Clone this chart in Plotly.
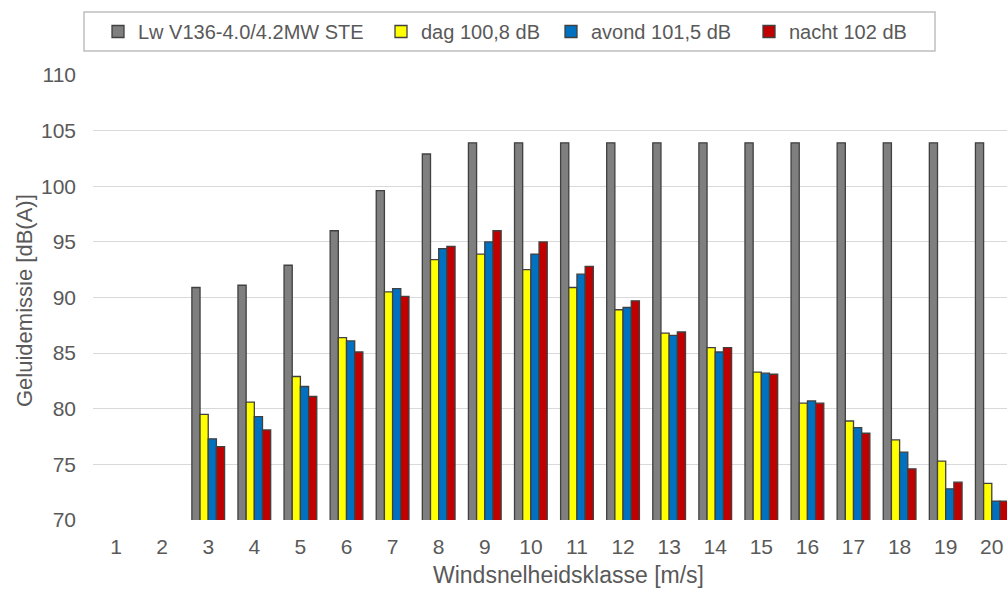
import plotly.graph_objects as go

classes = list(range(1, 21))
tick_labels = [str(c) for c in classes]

lw_v136 = [None, None, 90.9, 91.1, 92.9, 96.0, 99.6, 102.9, 103.9, 103.9,
           103.9, 103.9, 103.9, 103.9, 103.9, 103.9, 103.9, 103.9, 103.9, 103.9]
dag = [None, None, 79.5, 80.6, 82.9, 86.4, 90.5, 93.4, 93.9, 92.5,
       90.9, 88.9, 86.8, 85.5, 83.3, 80.5, 78.9, 77.2, 75.3, 73.3]
avond = [None, None, 77.3, 79.3, 82.0, 86.1, 90.8, 94.4, 95.0, 93.9,
         92.1, 89.1, 86.6, 85.1, 83.2, 80.7, 78.3, 76.1, 72.8, 71.7]
nacht = [None, None, 76.6, 78.1, 81.1, 85.1, 90.1, 94.6, 96.0, 95.0,
         92.8, 89.7, 86.9, 85.5, 83.1, 80.5, 77.8, 74.6, 73.4, 71.7]

series_names = ["Lw V136-4.0/4.2MW STE", "dag 100,8 dB", "avond 101,5 dB", "nacht 102 dB"]
series_values = [lw_v136, dag, avond, nacht]
series_colors = ["#7F7F7F", "#FFFF00", "#0070C0", "#C00000"]

FONT = "Liberation Sans, Arial, sans-serif"
TXT = "#595959"
W, H = 1007, 589
L, R, T, B = 93, 0, 75, 69

# legend entry left edges (px) so each entry sits where the reference has it
legend_px = [98, 381, 551, 749]
legend_ids = ["legend", "legend2", "legend3", "legend4"]

fig = go.Figure()
for name, vals, col, lid in zip(series_names, series_values, series_colors, legend_ids):
    fig.add_trace(go.Bar(
        x=classes, y=vals, name=name, legend=lid, showlegend=True,
        marker=dict(color=col, line=dict(color="#404040", width=1.3)),
    ))

layout_legends = {}
for lid, px in zip(legend_ids, legend_px):
    layout_legends[lid] = dict(
        orientation="h",
        xref="container", yref="container",
        x=px / W, xanchor="left",
        y=1 - 12 / H, yanchor="top",
        bgcolor="rgba(0,0,0,0)", borderwidth=0,
        font=dict(family=FONT, size=20, color=TXT),
        itemclick=False, itemdoubleclick=False,
        visible=True,
    )

pw = W - L - R
ph = H - T - B

def xp(px):
    return (px - L) / pw

def yp(py):
    return (H - B - py) / ph

fig.update_layout(
    width=W, height=H,
    showlegend=True,
    paper_bgcolor="white", plot_bgcolor="white",
    barmode="group", bargap=0.29, bargroupgap=0,
    margin=dict(l=L, r=R, t=T, b=B),
    font=dict(family=FONT, color=TXT, size=21),
    **layout_legends,
    xaxis=dict(
        range=[0.5, 20.33],
        tickmode="array", tickvals=classes, ticktext=tick_labels,
        showgrid=False, zeroline=False, showline=False,
        ticks="", ticklabelstandoff=12,
        tickfont=dict(size=21, color=TXT),
        automargin=False,
    ),
    yaxis=dict(
        range=[70, 110], dtick=5, tick0=70,
        showgrid=True, gridcolor="#D9D9D9", gridwidth=1,
        zeroline=False, showline=False,
        ticks="", ticklabelstandoff=16,
        tickfont=dict(size=21, color=TXT),
        automargin=False,
    ),
    shapes=[dict(
        type="rect", xref="paper", yref="paper",
        x0=xp(84), x1=xp(935), y0=yp(51), y1=yp(12),
        line=dict(color="#BFBFBF", width=1.5), fillcolor="rgba(0,0,0,0)",
        layer="below",
    )],
    annotations=[
        dict(text="Windsnelheidsklasse [m/s]", xref="paper", yref="paper",
             x=xp(568), y=yp(575), xanchor="center", yanchor="middle",
             showarrow=False, font=dict(family=FONT, size=23, color=TXT)),
        dict(text="Geluidemissie [dB(A)]", xref="paper", yref="paper",
             x=xp(24), y=yp(301), xanchor="center", yanchor="middle",
             textangle=-90, showarrow=False,
             font=dict(family=FONT, size=22, color=TXT)),
    ],
)

fig.write_html("out.html", config={"displayModeBar": False},
               post_script="document.body.style.margin='0px';")
